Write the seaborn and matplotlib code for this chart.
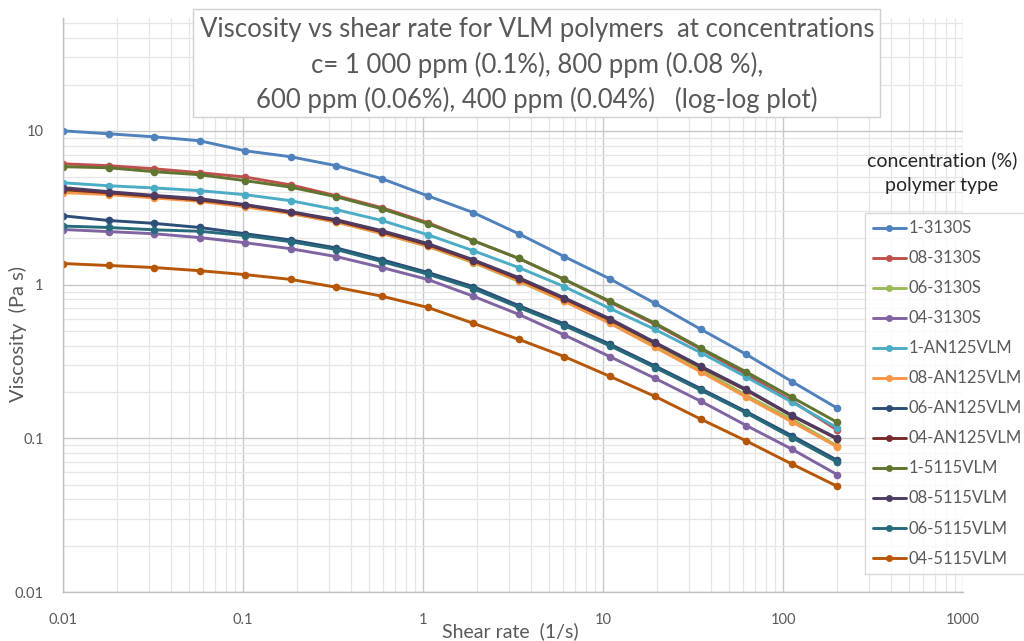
import numpy as np
import pandas as pd
import matplotlib
matplotlib.use("Agg")
import matplotlib.pyplot as plt
from matplotlib.patches import Rectangle
from matplotlib.ticker import LogLocator, FixedLocator, NullFormatter
import seaborn as sns

# ---------------- data ----------------
shear_rate = [0.01, 0.0179, 0.0321, 0.0575, 0.103, 0.184, 0.330, 0.591, 1.06,
              1.90, 3.40, 6.09, 10.9, 19.5, 35.0, 62.6, 112, 200]

series_names = ["1-3130S", "08-3130S", "06-3130S", "04-3130S",
                "1-AN125VLM", "08-AN125VLM", "06-AN125VLM", "04-AN125VLM",
                "1-5115VLM", "08-5115VLM", "06-5115VLM", "04-5115VLM"]

v_1_3130S = [10.0, 9.56, 9.14, 8.61, 7.41, 6.78, 5.93, 4.88, 3.78, 2.94, 2.14, 1.52,
             1.09, 0.753, 0.511, 0.351, 0.234, 0.157]
v_08_3130S = [6.10, 5.93, 5.66, 5.34, 5.00, 4.45, 3.78, 3.16, 2.53, 1.93, 1.48, 1.08,
              0.77, 0.55, 0.38, 0.26, 0.175, 0.113]
v_06_3130S = [4.05, 3.90, 3.70, 3.50, 3.22, 2.90, 2.55, 2.15, 1.77, 1.39, 1.05, 0.78,
              0.57, 0.40, 0.28, 0.19, 0.133, 0.089]
v_04_3130S = [2.28, 2.21, 2.14, 2.02, 1.87, 1.71, 1.52, 1.29, 1.08, 0.84, 0.64, 0.47,
              0.34, 0.245, 0.174, 0.121, 0.085, 0.058]
v_1_AN125 = [4.59, 4.39, 4.25, 4.08, 3.84, 3.51, 3.07, 2.61, 2.11, 1.66, 1.29, 0.97,
             0.70, 0.51, 0.36, 0.25, 0.172, 0.117]
v_08_AN125 = [3.96, 3.85, 3.66, 3.48, 3.20, 2.90, 2.55, 2.15, 1.78, 1.40, 1.06, 0.78,
              0.56, 0.39, 0.27, 0.185, 0.128, 0.088]
v_06_AN125 = [2.80, 2.61, 2.50, 2.35, 2.14, 1.95, 1.73, 1.45, 1.20, 0.97, 0.73, 0.555,
              0.41, 0.295, 0.21, 0.149, 0.104, 0.072]
v_04_AN125 = [4.15, 3.95, 3.75, 3.55, 3.28, 2.95, 2.60, 2.20, 1.82, 1.43, 1.09, 0.81,
              0.59, 0.415, 0.29, 0.205, 0.140, 0.099]
v_1_5115 = [5.84, 5.75, 5.42, 5.18, 4.74, 4.30, 3.72, 3.11, 2.49, 1.93, 1.48, 1.08,
            0.78, 0.56, 0.385, 0.27, 0.185, 0.127]
v_08_5115 = [4.27, 4.02, 3.80, 3.62, 3.31, 2.98, 2.64, 2.24, 1.85, 1.45, 1.11, 0.82,
             0.60, 0.42, 0.294, 0.208, 0.141, 0.100]
v_06_5115 = [2.40, 2.35, 2.27, 2.22, 2.08, 1.90, 1.69, 1.41, 1.17, 0.94, 0.71, 0.54,
             0.40, 0.288, 0.205, 0.146, 0.101, 0.070]
v_04_5115 = [1.37, 1.33, 1.29, 1.23, 1.16, 1.08, 0.96, 0.84, 0.71, 0.56, 0.44, 0.34,
             0.253, 0.187, 0.133, 0.096, 0.068, 0.0487]

all_values = [v_1_3130S, v_08_3130S, v_06_3130S, v_04_3130S,
              v_1_AN125, v_08_AN125, v_06_AN125, v_04_AN125,
              v_1_5115, v_08_5115, v_06_5115, v_04_5115]

colors = ["#4F81BD", "#C0504D", "#9BBB59", "#8064A2",
          "#4BACC6", "#F79646", "#2C4D75", "#772C2A",
          "#5F7530", "#4D3B62", "#276A7C", "#B65708"]

x_ticks = [0.01, 0.1, 1, 10, 100, 1000]
x_ticklabels = ["0.01", "0.1", "1", "10", "100", "1000"]
y_ticks = [0.01, 0.1, 1, 10]
y_ticklabels = ["0.01", "0.1", "1", "10"]

title_lines = ["Viscosity vs shear rate for VLM polymers  at concentrations",
               "c= 1 000 ppm (0.1%), 800 ppm (0.08 %),",
               "600 ppm (0.06%), 400 ppm (0.04%)   (log-log plot)"]

# ---------------- long table ----------------
rows = []
for name, vals in zip(series_names, all_values):
    for x, v in zip(shear_rate, vals):
        rows.append({"Shear rate": x, "Viscosity": v, "series": name})
df = pd.DataFrame(rows)

sns.set_theme(style="white")
plt.rcParams["font.family"] = ["Lato", "DejaVu Sans"]

W, H = 1024, 641
fig = plt.figure(figsize=(W / 100, H / 100), dpi=100)
fig.patch.set_facecolor("white")

L, R, T, B = 63, 963, 18, 592
ax = fig.add_axes([L / W, 1 - B / H, (R - L) / W, (B - T) / H])

sns.lineplot(data=df, x="Shear rate", y="Viscosity", hue="series",
             hue_order=series_names, palette=colors, marker="o",
             markersize=5.5, markeredgewidth=0, linewidth=2.1,
             estimator=None, sort=True, ax=ax, legend=True)

ax.set_xscale("log")
ax.set_yscale("log")
ax.set_xlim(0.01, 1000)
ax.set_ylim(0.01, 10 ** (1 + (131 - 18) / 154))

ax.xaxis.set_major_locator(FixedLocator(x_ticks))
ax.set_xticklabels(x_ticklabels)
ax.yaxis.set_major_locator(FixedLocator(y_ticks))
ax.set_yticklabels(y_ticklabels)
ax.xaxis.set_minor_locator(LogLocator(base=10, subs=np.arange(2, 10), numticks=50))
ax.yaxis.set_minor_locator(LogLocator(base=10, subs=np.arange(2, 10), numticks=50))
ax.xaxis.set_minor_formatter(NullFormatter())
ax.yaxis.set_minor_formatter(NullFormatter())

ax.grid(True, which="major", color="#C8C8C8", linewidth=1.0)
ax.grid(True, which="minor", color="#E6E6E6", linewidth=0.9)
ax.set_axisbelow(True)
ax.tick_params(which="both", length=0)
ax.tick_params(axis="x", pad=15, labelsize=10.5, labelcolor="#595959")
ax.tick_params(axis="y", pad=14, labelsize=10.5, labelcolor="#595959")

for s in ["top", "right"]:
    ax.spines[s].set_visible(False)
for s in ["left", "bottom"]:
    ax.spines[s].set_color("#BFBFBF")
    ax.spines[s].set_linewidth(1.0)

ax.set_xlabel("Shear rate  (1/s)", fontsize=14, color="#595959")
ax.set_ylabel("Viscosity  (Pa s)", fontsize=14.5, color="#595959")
ax.xaxis.set_label_coords((510 - L) / (R - L), -(622 - B) / (B - T))
ax.yaxis.set_label_coords(-(L - 27) / (R - L), (B - 334) / (B - T))

# legend
handles, labels = ax.get_legend_handles_labels()
if ax.get_legend() is not None:
    ax.get_legend().remove()
leg = fig.legend(handles, labels, loc="upper left",
                 bbox_to_anchor=(865 / W, 1 - 213 / H),
                 frameon=True, fancybox=False, edgecolor="#D0D0D0",
                 fontsize=12, labelspacing=0.84, handlelength=2.0,
                 handletextpad=0.15, borderpad=0.45, borderaxespad=0)
leg.get_frame().set_linewidth(1.0)
for t in leg.get_texts():
    t.set_color("#595959")
for h in leg.legend_handles:
    h.set_linewidth(2.1)
    h.set_markersize(5)

fig.text(942 / W, 1 - 160 / H, "concentration (%)", ha="center", va="center",
         fontsize=14, color="#262626")
fig.text(942 / W, 1 - 186 / H, "polymer type", ha="center", va="center",
         fontsize=14, color="#262626")

# title box
fig.patches.append(Rectangle((193 / W, 1 - 117 / H), (880 - 193) / W, (117 - 9) / H,
                             transform=fig.transFigure, facecolor="white",
                             edgecolor="#D0D0D0", linewidth=1.0, zorder=5))
for line, yc in zip(title_lines, [30, 65, 100]):
    fig.text(537 / W, 1 - yc / H, line, ha="center", va="center",
             fontsize=18.5, color="#595959", zorder=6)

fig.savefig("out.png", dpi=100, facecolor="white")
